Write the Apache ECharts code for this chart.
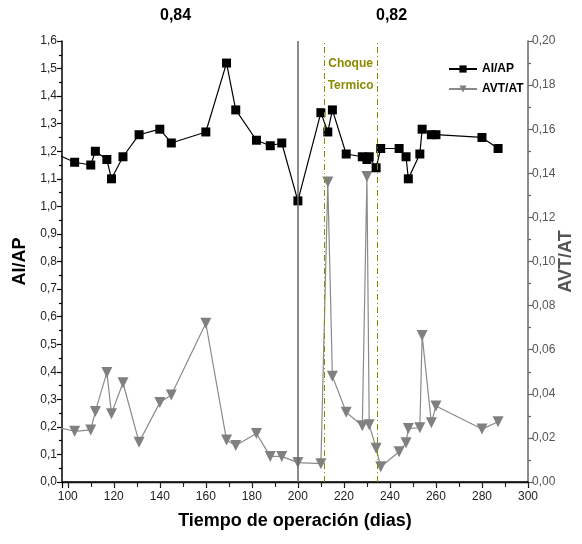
<!DOCTYPE html>
<html>
<head>
<meta charset="utf-8">
<script src="https://cdn.jsdelivr.net/npm/echarts@6/dist/echarts.min.js"></script>
<style>html,body{margin:0;padding:0;background:#fff}#c{width:582px;height:544px}</style>
</head>
<body>
<div id="c"></div>
<script>
// ---- data ----
const days = [95,103,110,112,117,119,124,131,140,145,160,169,173,182,188,193,200,210,213,215,221,228,230,231,234,236,244,247,248,253,254,258,260,280,287];
const aiap = [1.19,1.16,1.15,1.20,1.17,1.10,1.18,1.26,1.28,1.23,1.27,1.52,1.35,1.24,1.22,1.23,1.02,1.34,1.27,1.35,1.19,1.18,1.17,1.18,1.14,1.21,1.21,1.18,1.10,1.19,1.28,1.26,1.26,1.25,1.21];
const avtat = [0.025,0.023,0.0236,0.032,0.0497,0.031,0.045,0.018,0.036,0.0395,0.072,0.019,0.0166,0.022,0.0116,0.0116,0.0088,0.0083,0.136,0.048,0.0316,0.0255,0.1385,0.026,0.0153,0.0069,0.0137,0.0178,0.0243,0.0246,0.0664,0.0269,0.0345,0.024,0.0273];
const xTopTicks = [100,110,120,130,140,150,160,170,180,190,200,210,220,230,240,250,260,270,280,290,300];
const eventDays = [200, 211.3, 234.5];
const topLabels = ['0,84', '0,82'];
const seriesNames = ['AI/AP', 'AVT/AT'];

const FONT = "'Liberation Sans Narrow','Liberation Sans',Arial,sans-serif";
const chart = echarts.init(document.getElementById('c'), null, {renderer: 'canvas'});

const aiData = days.map((d, i) => [d, aiap[i]]);
const avtData = days.map((d, i) => [d, avtat[i]]);

chart.setOption({
  animation: false,
  textStyle: {fontFamily: FONT},
  grid: {left: 62, right: 54, top: 41, bottom: 62, containLabel: false, outerBoundsMode: 'none'},
  legend: {
    orient: 'vertical', left: 443, top: 58, itemGap: 8, itemWidth: 28, itemHeight: 9,
    data: seriesNames,
    textStyle: {fontFamily: FONT, fontWeight: 'bold', fontSize: 12, color: '#000'}
  },
  graphic: [
    {type: 'text', left: 160, top: 8, style: {text: topLabels[0], font: "bold 16px " + FONT, fill: '#000'}},
    {type: 'text', left: 376, top: 8, style: {text: topLabels[1], font: "bold 16px " + FONT, fill: '#000'}}
  ],
  xAxis: [
    {
      type: 'value', min: 97.5, max: 300, position: 'bottom', splitNumber: 10,
      name: 'Tiempo de operación (dias)', nameLocation: 'middle', nameGap: 30,
      nameTextStyle: {fontFamily: FONT, fontWeight: 'bold', fontSize: 18, color: '#000'},
      axisLine: {lineStyle: {color: '#000', width: 1.5}},
      axisTick: {length: 6, lineStyle: {color: '#000', width: 1.2}},
      minorTick: {show: true, splitNumber: 2, length: 3, lineStyle: {color: '#000', width: 1.2}},
      axisLabel: {showMinLabel: false, fontSize: 12, color: '#222', margin: 9, fontFamily: FONT},
      splitLine: {show: false}
    },
    {
      type: 'value', min: 97.5, max: 300, position: 'top',
      axisLine: {lineStyle: {color: '#111', width: 1.3}},
      axisTick: {inside: true, length: 5, customValues: xTopTicks, lineStyle: {color: '#222'}},
      axisLabel: {show: false},
      splitLine: {show: false}
    }
  ],
  yAxis: [
    {
      type: 'value', min: 0, max: 1.6, interval: 0.1, position: 'left',
      name: 'AI/AP', nameLocation: 'middle', nameGap: 33, nameRotate: 90,
      nameTextStyle: {fontFamily: FONT, fontWeight: 'bold', fontSize: 18, color: '#000'},
      axisLine: {show: true, lineStyle: {color: '#000', width: 1.5}},
      axisTick: {show: true, length: 5, lineStyle: {color: '#000', width: 1.2}},
      minorTick: {show: true, splitNumber: 2, length: 3, lineStyle: {color: '#000', width: 1.2}},
      axisLabel: {fontSize: 12, color: '#222', margin: 5, fontFamily: FONT, formatter: v => v.toFixed(1).replace('.', ',')},
      splitLine: {show: false}
    },
    {
      type: 'value', min: 0, max: 0.2, interval: 0.02, position: 'right',
      name: 'AVT/AT', nameLocation: 'middle', nameGap: 29, nameRotate: 90, nameMoveOverlap: false,
      nameTextStyle: {fontFamily: FONT, fontWeight: 'bold', fontSize: 18, color: '#555'},
      axisLine: {show: true, lineStyle: {color: '#666', width: 1.5}},
      axisTick: {show: true, length: 5, lineStyle: {color: '#666', width: 1.2}},
      minorTick: {show: true, splitNumber: 2, length: 3, lineStyle: {color: '#666', width: 1.2}},
      axisLabel: {fontSize: 12, color: '#555', margin: 4, fontFamily: FONT, formatter: v => v.toFixed(2).replace('.', ',')},
      splitLine: {show: false}
    }
  ],
  series: [
    {
      name: seriesNames[1], type: 'line', xAxisIndex: 0, yAxisIndex: 1, data: avtData,
      symbol: 'triangle', symbolRotate: 180, symbolSize: 11, showAllSymbol: true, clip: true,
      lineStyle: {color: '#8a8a8a', width: 1.2}, itemStyle: {color: '#808080'}, z: 3,
      markArea: {
        silent: true, itemStyle: {color: 'rgba(0,0,0,0)'},
        label: {show: true, position: 'insideTop', distance: 12, color: '#8b8b00', fontWeight: 'bold', fontSize: 12, lineHeight: 22, fontFamily: FONT},
        data: [[{xAxis: eventDays[1], name: 'Choque\nTermico'}, {xAxis: eventDays[2]}]]
      }
    },
    {
      name: seriesNames[0], type: 'line', xAxisIndex: 0, yAxisIndex: 0, data: aiData,
      symbol: 'rect', symbolSize: 9, showAllSymbol: true, clip: true,
      lineStyle: {color: '#000', width: 1.2}, itemStyle: {color: '#000'}, z: 4,
      markLine: {
        silent: true, symbol: 'none', label: {show: false},
        data: [
          {xAxis: eventDays[0], lineStyle: {color: '#666', width: 1.5, type: 'solid'}},
          {xAxis: eventDays[1], lineStyle: {color: '#8b8b00', width: 1, type: [6, 3, 1, 3]}},
          {xAxis: eventDays[2], lineStyle: {color: '#8b8b00', width: 1, type: [6, 3, 1, 3]}}
        ]
      }
    }
  ]
});
</script>
</body>
</html>
